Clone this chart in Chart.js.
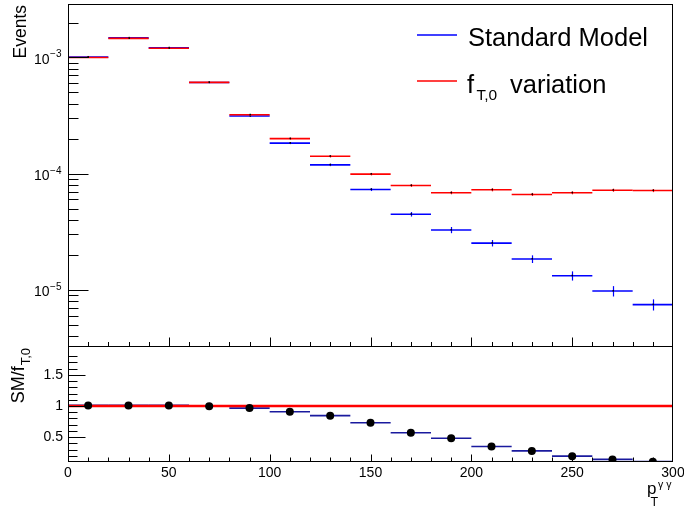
<!DOCTYPE html>
<html>
<head>
<meta charset="utf-8">
<script src="https://cdn.jsdelivr.net/npm/chart.js@4.4.0/dist/chart.umd.min.js"></script>
<style>
  html, body { margin: 0; padding: 0; background: #fff; }
  #wrap { position: relative; width: 684px; height: 507px; overflow: hidden; }
  #upper { position: absolute; left: 0; top: 0; }
  #lower { position: absolute; left: 0; top: 346px; }
</style>
</head>
<body>
<div id="wrap">
  <canvas id="upper" width="684" height="347" style="width:684px;height:347px"></canvas>
  <canvas id="lower" width="684" height="161" style="width:684px;height:161px"></canvas>
</div>
<script>
// ---- binning of p_T^{γγ} (GeV) ----
const binCenter = [10, 30, 50, 70, 90, 110, 130, 150, 170, 190, 210, 230, 250, 270, 290];
const binWidth = 20;

// ---- normalised event yields per bin ----
const smEvents  = [1.01e-3, 1.475e-3, 1.212e-3, 6.08e-4, 3.13e-4, 1.83e-4, 1.19e-4, 7.30e-5, 4.47e-5, 3.27e-5, 2.52e-5, 1.84e-5, 1.32e-5, 9.75e-6, 7.45e-6];
const smErrors  = [1.0e-5, 1.4e-5, 1.2e-5, 7.0e-6, 4.5e-6, 3.5e-6, 3.0e-6, 2.2e-6, 2.0e-6, 2.0e-6, 1.6e-6, 1.4e-6, 1.2e-6, 1.0e-6, 8.2e-7];
const ft0Events = [1.00e-3, 1.46e-3, 1.20e-3, 6.10e-4, 3.21e-4, 2.00e-4, 1.41e-4, 9.90e-5, 7.90e-5, 6.84e-5, 7.26e-5, 6.62e-5, 6.84e-5, 7.20e-5, 7.15e-5];
const ft0Errors = [1.0e-5, 1.4e-5, 1.2e-5, 7.0e-6, 5.0e-6, 4.0e-6, 3.3e-6, 2.4e-6, 2.2e-6, 2.0e-6, 2.2e-6, 2.0e-6, 2.0e-6, 2.2e-6, 2.2e-6];

// ---- SM / f_T,0 ratio per bin ----
const ratioValues = [1.01, 1.01, 1.01, 0.997, 0.966, 0.908, 0.845, 0.731, 0.569, 0.481, 0.350, 0.278, 0.194, 0.142, 0.106];

// ---- axis tick labels ----
const xTickLabels = [0, 50, 100, 150, 200, 250, 300];
const ratioTickLabels = [0.5, 1, 1.5];
const logTickExponents = [-5, -4, -3];

const SM_COLOR = '#0000ff';
const FT0_COLOR = '#ff0000';
const RATIO_COLOR = '#1a1a9e';

const FONT = '"Liberation Sans", Arial, Helvetica, sans-serif';
const font = (s) => s + 'px ' + FONT;
const crisp = (v) => Math.round(v) + 0.5;

// half of a bin width in pixels, taken from the x scale
const halfBinPx = (ctx) => {
  const s = ctx.chart.scales.x;
  return Math.abs(s.getPixelForValue(binWidth) - s.getPixelForValue(0)) / 2;
};

const toPoints = (vals) => binCenter.map((x, i) => ({ x: x, y: vals[i] }));

// vertical error bars with a dot at the bin centre, drawn right after each dataset
const errorBars = {
  id: 'errorBars',
  afterDatasetDraw(chart, args) {
    const ds = chart.data.datasets[args.index];
    if (!ds.errors) return;
    const { ctx, scales: { x, y } } = chart;
    ctx.save();
    ctx.strokeStyle = ds.pointBorderColor;
    ctx.lineWidth = 1.2;
    ds.data.forEach((p, i) => {
      const px = crisp(x.getPixelForValue(p.x));
      const e = ds.errors[i];
      ctx.beginPath();
      ctx.moveTo(px, y.getPixelForValue(p.y - e));
      ctx.lineTo(px, y.getPixelForValue(p.y + e));
      ctx.stroke();
      ctx.fillStyle = '#000';
      ctx.fillRect(px - 1, y.getPixelForValue(p.y) - 1, 1.5, 1.5);
    });
    ctx.restore();
  }
};

// frame, inward ticks, log labels, axis title and legend of the upper pad
const upperDecor = {
  id: 'upperDecor',
  afterDraw(chart) {
    const { ctx, chartArea: a, scales: { x, y } } = chart;
    ctx.save();
    ctx.strokeStyle = '#000';
    ctx.lineWidth = 1;
    const L = crisp(a.left), R = crisp(a.right) - 1, T = crisp(a.top) - 1, B = crisp(a.bottom);
    ctx.strokeRect(L, T, R - L, B - T);

    // y ticks (log)
    ctx.beginPath();
    for (let k = -6; k <= -2; k++) {
      for (let m = 1; m <= 9; m++) {
        const v = m * Math.pow(10, k);
        if (v <= y.min || v >= y.max) continue;
        const py = crisp(y.getPixelForValue(v));
        const len = m === 1 ? 20 : 10;
        ctx.moveTo(L, py); ctx.lineTo(L + len, py);
      }
    }
    // x ticks on the lower edge
    for (let v = 10; v < 300; v += 10) {
      const px = crisp(x.getPixelForValue(v));
      const len = v % 50 === 0 ? 9 : 4.5;
      ctx.moveTo(px, B); ctx.lineTo(px, B - len);
    }
    ctx.stroke();

    // 10^n labels
    ctx.fillStyle = '#000';
    ctx.textBaseline = 'alphabetic';
    ctx.textAlign = 'left';
    logTickExponents.forEach((e) => {
      const py = y.getPixelForValue(Math.pow(10, e));
      const sup = '\u2212' + Math.abs(e);
      ctx.font = font(10);
      const sw = ctx.measureText(sup).width;
      ctx.font = font(14);
      const bw = ctx.measureText('10').width;
      const xEnd = 61.5;
      ctx.fillText('10', xEnd - sw - bw - 0.5, py + 6.3);
      ctx.font = font(10);
      ctx.fillText(sup, xEnd - sw, py);
    });

    // y title
    ctx.save();
    ctx.font = font(17.5);
    const tw = ctx.measureText('Events').width;
    ctx.translate(26, 5 + tw);
    ctx.rotate(-Math.PI / 2);
    ctx.fillText('Events', 0, 0);
    ctx.restore();

    // legend
    ctx.lineWidth = 1.4;
    ctx.strokeStyle = SM_COLOR;
    ctx.beginPath();
    ctx.moveTo(417, 35); ctx.lineTo(457, 35);
    ctx.stroke();
    ctx.strokeStyle = FT0_COLOR;
    ctx.beginPath();
    ctx.moveTo(417, 81); ctx.lineTo(457, 81);
    ctx.stroke();
    ctx.fillStyle = '#000';
    ctx.font = font(25.5);
    ctx.fillText('Standard Model', 468, 46);
    ctx.fillText('f', 467, 93);
    ctx.font = font(15.5);
    ctx.fillText('T,0', 476.5, 100);
    ctx.font = font(25.5);
    ctx.fillText('variation', 510, 93);
    ctx.restore();
  }
};

// frame, inward ticks and titles of the ratio pad
const lowerDecor = {
  id: 'lowerDecor',
  afterDraw(chart) {
    const { ctx, chartArea: a, scales: { x, y } } = chart;
    ctx.save();
    ctx.strokeStyle = '#000';
    ctx.lineWidth = 1;
    const L = crisp(a.left), R = crisp(a.right) - 1, T = 0.5, B = crisp(a.bottom) - 1;
    ctx.strokeRect(L, T, R - L, B - T);

    ctx.beginPath();
    for (let i = 2; i <= 18; i++) {
      const v = i / 10;
      const py = crisp(y.getPixelForValue(v));
      const len = (i % 5 === 0) ? 17 : 9;
      ctx.moveTo(L, py); ctx.lineTo(L + len, py);
    }
    for (let v = 10; v < 300; v += 10) {
      const px = crisp(x.getPixelForValue(v));
      const len = v % 50 === 0 ? 7 : 4;
      ctx.moveTo(px, B); ctx.lineTo(px, B - len);
    }
    ctx.stroke();

    ctx.fillStyle = '#000';
    ctx.textAlign = 'left';
    ctx.textBaseline = 'alphabetic';

    // y title SM/f_{T,0}
    ctx.save();
    ctx.font = font(18);
    const w1 = ctx.measureText('SM/f').width;
    ctx.font = font(13);
    const w2 = ctx.measureText('T,0').width;
    ctx.translate(23.5, 2 + w1 + w2 + 1);
    ctx.rotate(-Math.PI / 2);
    ctx.font = font(18);
    ctx.fillText('SM/f', 0, 0);
    ctx.font = font(13);
    ctx.fillText('T,0', w1 + 1, 6);
    ctx.restore();

    // x title p_T^{γγ}
    ctx.font = font(17);
    ctx.fillText('p', 647, 148);
    ctx.font = font(12.5);
    ctx.fillText('T', 650.5, 160);
    ctx.font = font(10.5);
    ctx.fillText('\u03B3 \u03B3', 658, 141.5);
    ctx.restore();
  }
};

new Chart(document.getElementById('upper'), {
  type: 'scatter',
  data: {
    datasets: [
      {
        label: 'f_T,0 variation',
        data: toPoints(ft0Events),
        errors: ft0Errors,
        pointStyle: 'line',
        pointRadius: halfBinPx,
        pointHoverRadius: halfBinPx,
        pointBorderColor: FT0_COLOR,
        pointBackgroundColor: FT0_COLOR,
        pointBorderWidth: 1.6,
        order: 0
      },
      {
        label: 'Standard Model',
        data: toPoints(smEvents),
        errors: smErrors,
        pointStyle: 'line',
        pointRadius: halfBinPx,
        pointHoverRadius: halfBinPx,
        pointBorderColor: SM_COLOR,
        pointBackgroundColor: SM_COLOR,
        pointBorderWidth: 1.6,
        order: 1
      }
    ]
  },
  options: {
    responsive: false,
    animation: false,
    events: [],
    layout: { padding: { left: 68, right: 11, top: 5, bottom: 1 } },
    plugins: { legend: { display: false }, tooltip: { enabled: false } },
    scales: {
      x: { type: 'linear', min: 0, max: 300, display: false },
      y: { type: 'logarithmic', min: 3.28e-6, max: 2.83e-3, display: false }
    }
  },
  plugins: [errorBars, upperDecor]
});

const tickFont = { family: FONT, size: 14 };

new Chart(document.getElementById('lower'), {
  type: 'scatter',
  data: {
    datasets: [
      {
        label: 'ratio points',
        data: toPoints(ratioValues),
        pointStyle: 'circle',
        pointRadius: 4,
        pointHoverRadius: 4,
        pointBackgroundColor: '#000',
        pointBorderColor: '#000',
        pointBorderWidth: 0,
        order: 0
      },
      {
        label: 'unity',
        data: [{ x: 0, y: 1 }, { x: 300, y: 1 }],
        showLine: true,
        borderColor: FT0_COLOR,
        borderWidth: 2.6,
        pointRadius: 0,
        order: 1
      },
      {
        label: 'ratio bins',
        data: toPoints(ratioValues),
        pointStyle: 'line',
        pointRadius: halfBinPx,
        pointHoverRadius: halfBinPx,
        pointBorderColor: RATIO_COLOR,
        pointBorderWidth: 1.6,
        order: 2
      }
    ]
  },
  options: {
    responsive: false,
    animation: false,
    events: [],
    layout: { padding: { left: 0, right: 11, top: 1, bottom: 0 } },
    plugins: { legend: { display: false }, tooltip: { enabled: false } },
    scales: {
      x: {
        type: 'linear', min: 0, max: 300,
        afterBuildTicks: (s) => { s.ticks = xTickLabels.map((v) => ({ value: v })); },
        afterFit: (s) => { s.height = 45; s.paddingLeft = 0; s.paddingRight = 0; },
        grid: { display: false, drawTicks: false },
        border: { display: false },
        ticks: { font: tickFont, color: '#000', padding: 3, maxRotation: 0, autoSkip: false }
      },
      y: {
        type: 'linear', min: 0.1, max: 1.9,
        afterBuildTicks: (s) => { s.ticks = ratioTickLabels.map((v) => ({ value: v })); },
        afterFit: (s) => { s.width = 68; s.paddingTop = 0; s.paddingBottom = 0; },
        grid: { display: false, drawTicks: false },
        border: { display: false },
        ticks: { font: tickFont, color: '#000', padding: 5, callback: (v) => String(v) }
      }
    }
  },
  plugins: [lowerDecor]
});
</script>
</body>
</html>
